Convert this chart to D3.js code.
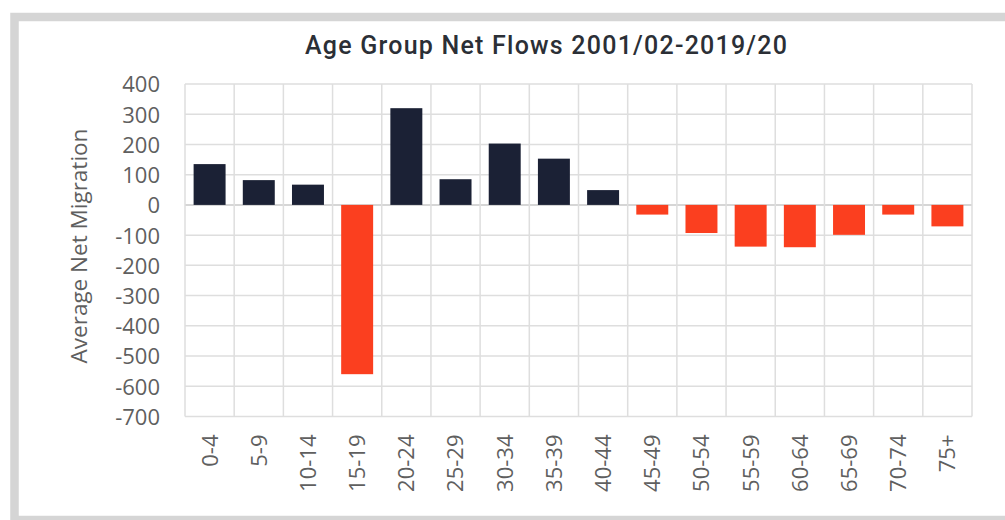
<!DOCTYPE html>
<html>
<head>
<meta charset="utf-8">
<script src="https://cdn.jsdelivr.net/npm/d3@7"></script>
<style>
  html, body { margin: 0; padding: 0; background: #ffffff; }
  svg { display: block; }
</style>
</head>
<body>
<svg id="chart" width="1005" height="520"></svg>
<script>
// Age groups and their average yearly net migration
const ageGroups = ["0-4", "5-9", "10-14", "15-19", "20-24", "25-29", "30-34", "35-39",
                   "40-44", "45-49", "50-54", "55-59", "60-64", "65-69", "70-74", "75+"];
const netMigration = [135, 82, 67, -560, 320, 85, 203, 153, 49, -32, -93, -138, -140, -99, -32, -71];
const yTicks = [400, 300, 200, 100, 0, -100, -200, -300, -400, -500, -600, -700];

const titleText = "Age Group Net Flows 2001/02-2019/20";
const yAxisTitle = "Average Net Migration";

const svg = d3.select("#chart");
const W = 1005, H = 520;
const plot = { left: 185, right: 972, top: 84, bottom: 416.5 };

// Card frame
svg.append("rect")
  .attr("x", 14.5).attr("y", 17)
  .attr("width", W + 20).attr("height", 503)
  .attr("fill", "#ffffff")
  .attr("stroke", "#d5d5d5")
  .attr("stroke-width", 8.5);

const x = d3.scaleBand()
  .domain(ageGroups)
  .range([plot.left, plot.right])
  .paddingInner(0.35)
  .paddingOuter(0.175);

const xGrid = d3.scaleBand()
  .domain(ageGroups)
  .range([plot.left, plot.right]);

const y = d3.scaleLinear()
  .domain([-700, 400])
  .range([plot.bottom, plot.top]);

// Gridlines
const grid = svg.append("g").attr("class", "grid");
grid.selectAll("line.h")
  .data(yTicks)
  .join("line")
  .attr("class", "h")
  .attr("x1", plot.left).attr("x2", plot.right)
  .attr("y1", d => y(d)).attr("y2", d => y(d))
  .attr("stroke", d => d === 0 ? "#c8c8c8" : "#dedede")
  .attr("stroke-width", 1.5);

const boundaries = ageGroups.map(g => xGrid(g)).concat([plot.right]);
grid.selectAll("line.v")
  .data(boundaries)
  .join("line")
  .attr("class", "v")
  .attr("x1", d => d).attr("x2", d => d)
  .attr("y1", plot.top).attr("y2", plot.bottom)
  .attr("stroke", "#dedede")
  .attr("stroke-width", 1.5);

// Bars
svg.append("g").selectAll("rect")
  .data(ageGroups.map((g, i) => ({ g, v: netMigration[i] })))
  .join("rect")
  .attr("x", d => x(d.g))
  .attr("width", x.bandwidth())
  .attr("y", d => y(Math.max(0, d.v)))
  .attr("height", d => Math.abs(y(d.v) - y(0)))
  .attr("fill", d => d.v >= 0 ? "#1b2135" : "#fb3f1f");

// Y axis labels (plain hyphen for negatives)
const yAxis = d3.axisLeft(y).tickValues(yTicks).tickFormat(d => String(d)).tickSize(0).tickPadding(0);
const yG = svg.append("g")
  .attr("transform", `translate(${plot.left - 25},0)`)
  .call(yAxis);
yG.select(".domain").remove();
yG.selectAll("text")
  .attr("font-family", "'Open Sans', sans-serif")
  .attr("font-size", 22)
  .attr("fill", "#5f5f5f")
  .attr("dy", "0.36em");

// X axis labels (rotated)
const xAxis = d3.axisBottom(xGrid).tickSize(0).tickPadding(0);
const xG = svg.append("g")
  .attr("transform", `translate(0,${plot.bottom})`)
  .call(xAxis);
xG.select(".domain").remove();
xG.selectAll("text")
  .attr("font-family", "'Open Sans', sans-serif")
  .attr("font-size", 22)
  .attr("fill", "#5f5f5f")
  .attr("text-anchor", "end")
  .attr("transform", "translate(0,18) rotate(-90)")
  .attr("x", 0)
  .attr("y", 0)
  .attr("dy", "0.36em");

// Y axis title
svg.append("text")
  .attr("transform", "translate(79,246) rotate(-90)")
  .attr("text-anchor", "middle")
  .attr("dy", "0.36em")
  .attr("font-family", "'Open Sans', sans-serif")
  .attr("font-size", 22.5)
  .attr("fill", "#5f5f5f")
  .text(yAxisTitle);

// Chart title
svg.append("text")
  .attr("x", 546)
  .attr("y", 54)
  .attr("text-anchor", "middle")
  .attr("font-family", "Roboto, sans-serif")
  .attr("font-weight", 500)
  .attr("font-size", 25)
  .attr("textLength", 482)
  .attr("lengthAdjust", "spacing")
  .attr("fill", "#2b2f36")
  .text(titleText);
</script>
</body>
</html>
